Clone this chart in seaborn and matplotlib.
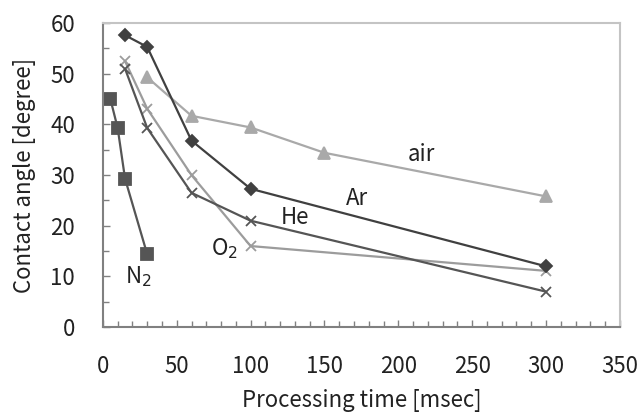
import pandas as pd
import matplotlib
matplotlib.use("Agg")
import matplotlib.pyplot as plt
import seaborn as sns
from matplotlib.ticker import MultipleLocator

# data
ar_time = [15, 30, 60, 100, 300]
ar_angle = [57.6, 55.3, 36.8, 27.3, 12.0]

he_time = [15, 30, 60, 100, 300]
he_angle = [51.0, 39.3, 26.5, 21.0, 7.0]

o2_time = [15, 30, 60, 100, 300]
o2_angle = [52.5, 43.1, 30.0, 16.0, 11.1]

air_time = [30, 60, 100, 150, 300]
air_angle = [49.3, 41.7, 39.4, 34.4, 25.8]

n2_time = [5, 10, 15, 30]
n2_angle = [45.1, 39.3, 29.3, 14.4]

series = [
    ("air", air_time, air_angle, "#a9a9a9", "^", 8),
    ("O2", o2_time, o2_angle, "#9c9c9c", "x", 7),
    ("He", he_time, he_angle, "#555555", "x", 7),
    ("Ar", ar_time, ar_angle, "#404040", "D", 6),
    ("N2", n2_time, n2_angle, "#555555", "s", 8),
]

sns.set_theme(style="white")
plt.rcParams['font.family'] = ['Noto Sans CJK JP', 'DejaVu Sans']

fig = plt.figure(figsize=(6.43, 4.12), dpi=100)
ax = fig.add_axes([0.160, 0.206, 0.804, 0.738])

for name, t, a, col, mk, ms in series:
    df = pd.DataFrame({"time": t, "angle": a})
    sns.lineplot(data=df, x="time", y="angle", ax=ax, color=col, marker=mk,
                 markersize=ms, markeredgecolor=col, markerfacecolor=col,
                 markeredgewidth=1.3, linewidth=1.6, sort=False)

ax.set_xlim(0, 350)
ax.set_ylim(0, 60)
ax.xaxis.set_major_locator(MultipleLocator(50))
ax.xaxis.set_minor_locator(MultipleLocator(10))
ax.yaxis.set_major_locator(MultipleLocator(10))
ax.yaxis.set_minor_locator(MultipleLocator(5))
ax.tick_params(which="both", direction="in", bottom=True, left=True,
               colors="#808080", labelcolor="#222222")
ax.tick_params(which="major", length=5, width=1)
ax.tick_params(which="minor", length=4, width=1)
ax.tick_params(axis="x", which="major", pad=20, labelsize=16)
ax.tick_params(axis="y", which="major", pad=20, labelsize=16)

for side in ["left", "bottom"]:
    ax.spines[side].set_color("#808080")
    ax.spines[side].set_linewidth(1.5)
for side in ["top", "right"]:
    ax.spines[side].set_color("#c4c4c4")
    ax.spines[side].set_linewidth(1.5)

ax.set_xlabel("Processing time [msec]", fontsize=16, color="#222222", labelpad=8)
ax.set_ylabel("Contact angle [degree]", fontsize=16, color="#222222", labelpad=10)

# gas labels placed next to their lines
ax.text(216, 34.0, "air", fontsize=16, color="#222222", ha="center", va="center")
ax.text(172, 25.4, "Ar", fontsize=16, color="#222222", ha="center", va="center")
ax.text(130, 21.6, "He", fontsize=16, color="#222222", ha="center", va="center")
ax.text(82, 15.5, "O$_2$", fontsize=16, color="#222222", ha="center", va="center")
ax.text(24, 9.9, "N$_2$", fontsize=16, color="#222222", ha="center", va="center")

fig.savefig("out.png", dpi=100)
